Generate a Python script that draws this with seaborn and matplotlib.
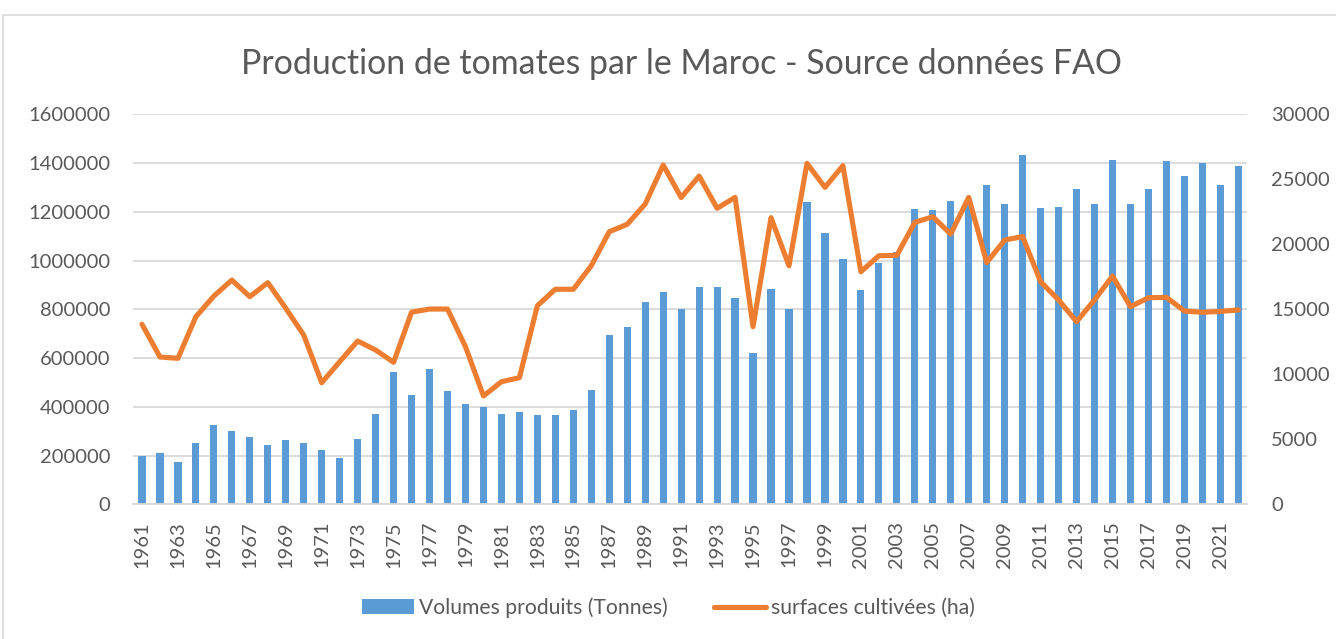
import numpy as np
import pandas as pd
import matplotlib
matplotlib.use("Agg")
import matplotlib.pyplot as plt
import seaborn as sns
from matplotlib.patches import Rectangle, Patch
from matplotlib.lines import Line2D
from matplotlib.ticker import FuncFormatter

years = list(range(1961, 2023))
volumes = [200000, 210000, 175000, 253000, 325000, 301000, 276000, 243000, 263000, 250000,
           224000, 190000, 269000, 370000, 541000, 448000, 554000, 465000, 412000, 400000,
           370000, 379000, 365000, 368000, 388000, 469000, 695000, 726000, 830000, 870000,
           801000, 891000, 891000, 848000, 620000, 882000, 802000, 1240000, 1114000, 1008000,
           879000, 990000, 1034000, 1213000, 1206000, 1244000, 1235000, 1311000, 1231000, 1433000,
           1217000, 1218000, 1293000, 1231000, 1411000, 1231000, 1293000, 1408000, 1346000, 1399000,
           1310000, 1388000]
surfaces = [13850, 11330, 11230, 14430, 16020, 17250, 15970, 17050, 15080, 13020,
            9350, 10970, 12560, 11870, 10920, 14780, 15020, 15020, 12120, 8330,
            9430, 9740, 15280, 16540, 16540, 18350, 20970, 21540, 23100, 26100,
            23600, 25250, 22770, 23610, 13660, 22050, 18350, 26230, 24380, 26050,
            17890, 19120, 19150, 21690, 22120, 20790, 23610, 18590, 20330, 20590,
            17120, 15720, 14050, 15720, 17560, 15200, 15890, 15920, 14870, 14770,
            14840, 14950]
title = "Production de tomates par le Maroc - Source données FAO"
label_bar = "Volumes produits (Tonnes)"
label_line = "surfaces cultivées (ha)"

BLUE = "#5B9BD5"
ORANGE = "#ED7D31"
GREY_TXT = "#595959"
GRID = "#D9D9D9"

sns.set_theme(style="white")
plt.rcParams['font.family'] = ['Lato', 'DejaVu Sans']

df = pd.DataFrame({"year": years, "vol": volumes, "surf": surfaces})

W, H = 1336, 639
fig = plt.figure(figsize=(W / 100, H / 100), dpi=100)
ax = fig.add_axes([133 / W, (H - 504.3) / H, (1247.3 - 133) / W, 390 / H])

sns.barplot(data=df, x="year", y="vol", native_scale=True, width=0.4, color=BLUE,
            saturation=1, errorbar=None, ax=ax, edgecolor="none", linewidth=0)
ax2 = ax.twinx()
sns.lineplot(data=df, x="year", y="surf", ax=ax2, color=ORANGE, lw=3.7,
             solid_joinstyle="round", solid_capstyle="round")

ax.set_xlim(1960.5, 2022.5)
ax.set_ylim(0, 1600000)
ax2.set_ylim(0, 30000)
ax.set_yticks(range(0, 1600001, 200000))
ax2.set_yticks(range(0, 30001, 5000))
fmt = FuncFormatter(lambda v, p: f"{int(v)}")
ax.yaxis.set_major_formatter(fmt)
ax2.yaxis.set_major_formatter(fmt)
ax.set_xticks(years[::2])
ax.set_xticklabels([str(y) for y in years[::2]], rotation=90)

for a in (ax, ax2):
    a.set_xlabel("")
    a.set_ylabel("")
    for s in a.spines.values():
        s.set_visible(False)
ax.spines["bottom"].set_visible(True)
ax.spines["bottom"].set_color(GRID)
ax.spines["bottom"].set_linewidth(1.3)

ax.yaxis.grid(True, color=GRID, lw=1.3)
ax.set_axisbelow(True)
ax2.grid(False)

fs = 14.5
ax.tick_params(axis="x", length=0, pad=12, labelsize=fs, labelcolor=GREY_TXT)
ax.tick_params(axis="y", length=0, pad=16.5, labelsize=fs, labelcolor=GREY_TXT)
ax2.tick_params(axis="y", length=0, pad=17, labelsize=fs, labelcolor=GREY_TXT)

fig.text(0.51, 0.900, title, ha="center", va="center", fontsize=24.4, color=GREY_TXT)

handles = [Patch(facecolor=BLUE, edgecolor="none"),
           Line2D([], [], color=ORANGE, lw=3.7, solid_capstyle="round")]
leg = fig.legend(handles, [label_bar, label_line], loc="center left", bbox_to_anchor=(0.257, 0.0485),
                 ncol=2, frameon=False, fontsize=15.2, labelcolor=GREY_TXT,
                 handlelength=2.46, handleheight=0.72, handletextpad=0.22, columnspacing=2.2)

fig.patches.append(Rectangle((3 / W, -0.05), 1.2, (H - 15) / H + 0.05, transform=fig.transFigure,
                             fill=False, edgecolor=GRID, lw=1.2))

fig.savefig("out.png", dpi=100)
